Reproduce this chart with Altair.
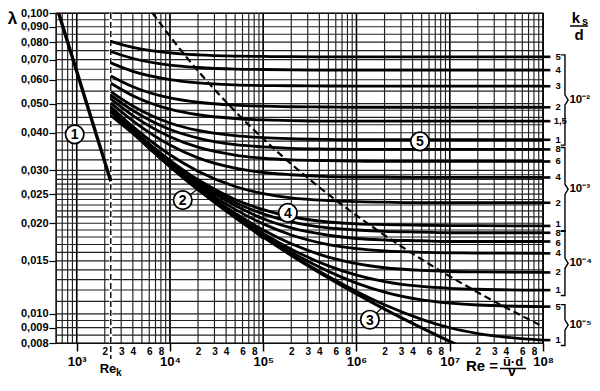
import math
import altair as alt
import pandas as pd

FONT = "Liberation Sans"
NARROW = "Liberation Sans Narrow, Liberation Sans"

# ---------------- data ----------------
# Reynolds numbers at which the transition curves are read
RE = [2320, 4000, 1e4, 2e4, 5e4, 1e5, 2e5, 5e5, 1e6, 2e6, 5e6, 1e7, 2e7, 1e8]

KS_LABELS = ["5", "4", "3", "2", "1,5", "1", "8", "6", "4", "2", "1",
             "8", "6", "4", "2", "1", "5", "1"]
KS_GROUPS = ["10⁻²"] * 6 + ["10⁻³"] * 5 + ["10⁻⁴"] * 5 + ["10⁻⁵"] * 2

LAM_5E2 = [0.0805, 0.0769, 0.0737, 0.0726, 0.0719, 0.0717, 0.0716, 0.0715, 0.0715, 0.0715, 0.0715, 0.0715, 0.0715, 0.0715]
LAM_4E2 = [0.0745, 0.0706, 0.0671, 0.0659, 0.0651, 0.0649, 0.0647, 0.0646, 0.0646, 0.0646, 0.0646, 0.0646, 0.0646, 0.0646]
LAM_3E2 = [0.0683, 0.0640, 0.0601, 0.0586, 0.0577, 0.0574, 0.0573, 0.0572, 0.0571, 0.0571, 0.0571, 0.0571, 0.0571, 0.0571]
LAM_2E2 = [0.0618, 0.0569, 0.0522, 0.0505, 0.0494, 0.0490, 0.0488, 0.0487, 0.0486, 0.0486, 0.0486, 0.0486, 0.0486, 0.0486]
LAM_15E3 = [0.0584, 0.0531, 0.0479, 0.0459, 0.0446, 0.0441, 0.0439, 0.0437, 0.0437, 0.0437, 0.0437, 0.0437, 0.0437, 0.0437]
LAM_1E2 = [0.0548, 0.0491, 0.0431, 0.0407, 0.0391, 0.0385, 0.0382, 0.0380, 0.0379, 0.0379, 0.0379, 0.0379, 0.0379, 0.0379]
LAM_8E3 = [0.0533, 0.0474, 0.0410, 0.0384, 0.0365, 0.0359, 0.0355, 0.0353, 0.0352, 0.0352, 0.0352, 0.0352, 0.0352, 0.0352]
LAM_6E3 = [0.0518, 0.0456, 0.0388, 0.0358, 0.0337, 0.0329, 0.0325, 0.0323, 0.0322, 0.0321, 0.0321, 0.0321, 0.0321, 0.0321]
LAM_4E3 = [0.0503, 0.0438, 0.0364, 0.0330, 0.0305, 0.0295, 0.0290, 0.0286, 0.0285, 0.0285, 0.0284, 0.0284, 0.0284, 0.0284]
LAM_2E3 = [0.0488, 0.0419, 0.0338, 0.0298, 0.0265, 0.0251, 0.0243, 0.0238, 0.0236, 0.0235, 0.0234, 0.0234, 0.0234, 0.0234]
LAM_1E3 = [0.0480, 0.0409, 0.0324, 0.0279, 0.0240, 0.0222, 0.0210, 0.0202, 0.0199, 0.0198, 0.0197, 0.01965, 0.01964, 0.0196]
LAM_8E4 = [0.0478, 0.0407, 0.0321, 0.0275, 0.02345, 0.0215, 0.0202, 0.0193, 0.0190, 0.0188, 0.0187, 0.0186, 0.0186, 0.0186]
LAM_6E4 = [0.0477, 0.0405, 0.0318, 0.02715, 0.0229, 0.0207, 0.0193, 0.01825, 0.0178, 0.0176, 0.0175, 0.0174, 0.0174, 0.0174]
LAM_4E4 = [0.0475, 0.0403, 0.0315, 0.0267, 0.02225, 0.01991, 0.01829, 0.0170, 0.01648, 0.01619, 0.01601, 0.01595, 0.01592, 0.01589]
LAM_2E4 = [0.04733, 0.0401, 0.03119, 0.02632, 0.02159, 0.0190, 0.01709, 0.01543, 0.01468, 0.01423, 0.01394, 0.01383, 0.01378, 0.01373]
LAM_1E4 = [0.04723, 0.04001, 0.03104, 0.0261, 0.02125, 0.01851, 0.01641, 0.01443, 0.01344, 0.0128, 0.01233, 0.01216, 0.01207, 0.01199]
LAM_5E5 = [0.0472, 0.03996, 0.03095, 0.02599, 0.02107, 0.01826, 0.01603, 0.01384, 0.01265, 0.01181, 0.01113, 0.01086, 0.0107, 0.01057]
LAM_1E5 = [0.04717, 0.03992, 0.03089, 0.0259, 0.02093, 0.01805, 0.01572, 0.0133, 0.01187, 0.01072, 0.00959, 0.00899, 0.0086, 0.00818]

CURVES = [LAM_5E2, LAM_4E2, LAM_3E2, LAM_2E2, LAM_15E3, LAM_1E2,
          LAM_8E3, LAM_6E3, LAM_4E3, LAM_2E3, LAM_1E3,
          LAM_8E4, LAM_6E4, LAM_4E4, LAM_2E4, LAM_1E4,
          LAM_5E5, LAM_1E5]

# (3) hydraulically smooth pipe
RE_SMOOTH = [2320, 4000, 1e4, 2e4, 5e4, 1e5, 2e5, 5e5, 1e6, 2e6, 5e6, 1e7, 1.2e7]
LAM_SMOOTH = [0.04716, 0.03991, 0.03088, 0.02589, 0.02089, 0.01799, 0.01564, 0.01316, 0.01165, 0.01037, 0.00898, 0.0081, 0.00789]
# (2) Blasius
RE_BLASIUS = [2320, 4000, 1e4, 2e4, 5e4, 1e5]
LAM_BLASIUS = [0.04555, 0.03978, 0.03164, 0.02661, 0.02116, 0.01779]
# (1) laminar
RE_LAMINAR = [640, 2320]
LAM_LAMINAR = [0.1, 0.02759]
# (5) limit of the fully rough region
RE_LIMIT = [6494, 14963, 45368, 102776, 296730, 1427800, 3967000, 18278000, 1e8]
LAM_LIMIT = [0.1, 0.07146, 0.04858, 0.03787, 0.02839, 0.01962, 0.01588, 0.01197, 0.00907]

RE_K = 2320

# circled numbers
ANN_TXT = ["1", "2", "3", "4", "5"]
ANN_RE = [952, 13710, 1.392e6, 1.837e5, 4.79e6]
ANN_LAM = [0.0395, 0.02388, 0.00956, 0.02165, 0.03744]
# leader lines of the circled numbers 2 and 3
LEAD_RE = [13710, 1.392e6]
LEAD_LAM = [0.02388, 0.00956]
LEAD_RE2 = [20880, 2.0e6]
LEAD_LAM2 = [0.0263, 0.0107]

# axis ticks
Y_TICKS = [0.1, 0.09, 0.08, 0.07, 0.06, 0.05, 0.04, 0.03, 0.025, 0.02, 0.015, 0.01, 0.009, 0.008]
X_DECADES = [1e3, 1e4, 1e5, 1e6, 1e7, 1e8]
X_MINOR = [k * 10 ** n for n in range(3, 8) for k in (2, 3, 4, 6, 8)]

# grid
V_GRID = [k * 10 ** n for n in range(2, 8) for k in range(1, 10) if k * 10 ** n >= 600] + [1e8]
H_GRID = [0.008, 0.0085, 0.009, 0.0095, 0.010, 0.011, 0.012, 0.013, 0.014, 0.015,
          0.016, 0.017, 0.018, 0.019, 0.020, 0.021, 0.022, 0.023, 0.024, 0.025,
          0.026, 0.027, 0.028, 0.029, 0.030, 0.0325, 0.035, 0.0375, 0.040, 0.0425,
          0.045, 0.0475, 0.050, 0.055, 0.060, 0.065, 0.070, 0.075, 0.080, 0.085,
          0.090, 0.095, 0.100]

# ---------------- chart ----------------
W, H = 487, 330
xs = alt.Scale(type="log", domain=[600, 1e8], nice=False)
ys = alt.Scale(type="log", domain=[0.008, 0.1], nice=False)

y_axis = alt.Axis(values=Y_TICKS, labelExpr="replace(format(datum.value, '.3f'), '.', ',')",
                  tickSize=7, tickColor="black", tickWidth=1.2, labelPadding=1,
                  labelFont=FONT, labelFontSize=11, labelFontWeight="bold", labelColor="black",
                  labelOverlap=False, domain=False, grid=False,
                  title="λ", titleAngle=0, titleX=-44, titleY=5, titleFont=FONT,
                  titleFontSize=17, titleFontWeight="bold", titleColor="black",
                  titleAlign="center", titleBaseline="middle")
Y = alt.Y("lam:Q", scale=ys, axis=y_axis)
XN = alt.X("Re:Q", scale=xs, axis=None)

minor_axis = alt.Axis(values=X_MINOR, orient="bottom",
                      labelExpr="format(datum.value / pow(10, floor(log(datum.value) / LN10 + 1e-6)), 'd')",
                      tickSize=0, labelPadding=3, labelFont=FONT, labelFontSize=10,
                      labelFontWeight="bold", labelColor="black", labelOverlap=False,
                      labelFlush=False, domain=False, grid=False, title=None)
decade_axis = alt.Axis(values=X_DECADES, orient="bottom",
                       labelExpr="'10' + ['⁰','¹','²','³','⁴','⁵','⁶','⁷','⁸'][round(log(datum.value) / LN10)]",
                       tickSize=8, tickColor="black", tickWidth=1.5, labelPadding=4,
                       labelFont=FONT, labelFontSize=13, labelFontWeight="bold",
                       labelColor="black", labelOverlap=False, labelFlush=False,
                       domain=False, grid=False, title=None)

rows = []
for i, vals in enumerate(CURVES):
    for re_, lam in zip(RE, vals):
        rows.append({"curve": i, "Re": re_, "lam": lam})
rough = pd.DataFrame(rows)

GRID_COL = "#202020"
vgrid = alt.Chart(pd.DataFrame({"Re": V_GRID})).mark_rule(
    color=GRID_COL, strokeWidth=1.15).encode(x=alt.X("Re:Q", scale=xs, axis=minor_axis))
decades = alt.Chart(pd.DataFrame({"Re": X_DECADES})).mark_rule(
    color="black", strokeWidth=1.5).encode(x=alt.X("Re:Q", scale=xs, axis=decade_axis))
hgrid = alt.Chart(pd.DataFrame({"lam": H_GRID})).mark_rule(
    color=GRID_COL, strokeWidth=1.15).encode(y=Y)

rek = alt.Chart(pd.DataFrame({"Re": [RE_K]})).mark_rule(
    color="white", strokeWidth=3).encode(x=XN, y=alt.value(0), y2=alt.value(H))
rek_dash = alt.Chart(pd.DataFrame({"Re": [RE_K]})).mark_rule(
    color="black", strokeWidth=1.4, strokeDash=[6, 3]).encode(x=XN, y=alt.value(0), y2=alt.value(H + 16))

curves = alt.Chart(rough).mark_line(color="black", strokeWidth=2.8, interpolate="monotone",
                                    clip=True).encode(x=XN, y=Y, detail="curve:N")
smooth = alt.Chart(pd.DataFrame({"Re": RE_SMOOTH, "lam": LAM_SMOOTH})).mark_line(
    color="black", strokeWidth=3, interpolate="monotone", clip=True).encode(x=XN, y=Y)
blasius = alt.Chart(pd.DataFrame({"Re": RE_BLASIUS, "lam": LAM_BLASIUS})).mark_line(
    color="black", strokeWidth=2.6, interpolate="monotone", clip=True).encode(x=XN, y=Y)
laminar = alt.Chart(pd.DataFrame({"Re": RE_LAMINAR, "lam": LAM_LAMINAR})).mark_line(
    color="black", strokeWidth=3.4, clip=True).encode(x=XN, y=Y)
limit = alt.Chart(pd.DataFrame({"Re": RE_LIMIT, "lam": LAM_LIMIT})).mark_line(
    color="black", strokeWidth=2.2, strokeDash=[7, 4], interpolate="monotone", clip=True).encode(x=XN, y=Y)

# right-hand labels of ks/d (two crowded labels nudged apart a little, as in the original)
ends = [c[-1] for c in CURVES]
nudge = [1.0] * len(ends)
nudge[10] = 1.012   # "1" of 10^-3
nudge[12] = 1 / 1.01  # "6" of 10^-4
lab_df = pd.DataFrame({"Re": [1e8] * len(ends), "Re2": [1.2e8] * len(ends),
                       "Rl": [1.3e8 if t == "1,5" else 1.36e8 for t in KS_LABELS],
                       "lam": ends, "lamL": [e * n for e, n in zip(ends, nudge)],
                       "txt": KS_LABELS})
leaders = alt.Chart(lab_df).mark_rule(color="black", strokeWidth=2.6).encode(
    x=XN, x2="Re2:Q", y=Y)
labels = alt.Chart(lab_df).mark_text(align="left", baseline="middle", font=NARROW, fontSize=9.5,
                                     fontWeight="bold", color="black").encode(
    x=alt.X("Rl:Q", scale=xs, axis=None), y=alt.Y("lamL:Q", scale=ys, axis=y_axis), text="txt:N")

# braces
brace_rows, grp_rows = [], []
for g in ["10⁻²", "10⁻³", "10⁻⁴", "10⁻⁵"]:
    idx = [i for i, v in enumerate(KS_GROUPS) if v == g]
    top = ends[idx[0]] * 1.015
    bot = ends[idx[-1]] * 0.96
    mid = math.sqrt(top * bot)
    pts = [(1.55e8, top), (1.72e8, top), (1.72e8, mid * 1.04), (1.86e8, mid),
           (1.72e8, mid / 1.04), (1.72e8, bot), (1.55e8, bot)]
    for o, (r_, l_) in enumerate(pts):
        brace_rows.append({"g": g, "o": o, "Re": r_, "lam": l_})
    grp_rows.append({"Re": 1.92e8, "lam": mid, "txt": g})
braces = alt.Chart(pd.DataFrame(brace_rows)).mark_line(color="black", strokeWidth=1.4).encode(
    x=XN, y=Y, detail="g:N", order="o:O")
grp_text = alt.Chart(pd.DataFrame(grp_rows)).mark_text(
    align="left", baseline="middle", font=FONT, fontSize=11.5, fontWeight="bold", color="black").encode(
    x=XN, y=Y, text="txt:N")

# circled numbers
lead = alt.Chart(pd.DataFrame({"Re": LEAD_RE, "lam": LEAD_LAM, "Re2": LEAD_RE2, "lam2": LEAD_LAM2})).mark_rule(
    color="black", strokeWidth=1.2).encode(x=XN, y=Y, x2="Re2:Q", y2="lam2:Q")
ann = pd.DataFrame({"Re": ANN_RE, "lam": ANN_LAM, "txt": ANN_TXT})
circles = alt.Chart(ann).mark_point(shape="circle", size=340, filled=True, fill="white",
                                    stroke="black", strokeWidth=1.7, opacity=1).encode(x=XN, y=Y)
circ_txt = alt.Chart(ann).mark_text(font=FONT, fontSize=14, fontWeight="bold", color="black",
                                    baseline="middle", dy=1).encode(x=XN, y=Y, text="txt:N")


def label(text, x, y, size, align="center", baseline="middle"):
    return alt.Chart(pd.DataFrame({"a": [0]})).mark_text(
        text=text, font=FONT, fontSize=size, fontWeight="bold", color="black",
        align=align, baseline=baseline).encode(x=alt.value(x), y=alt.value(y))


def line(x1, x2, y):
    return alt.Chart(pd.DataFrame({"a": [0]})).mark_rule(color="black", strokeWidth=1.5).encode(
        x=alt.value(x1), x2=alt.value(x2), y=alt.value(y))


texts = [
    label("Re", 52, 360, 13, baseline="alphabetic"),
    label("k", 60, 363, 10, "left", baseline="alphabetic"),
    label("Re =", 426, 358, 15, baseline="alphabetic"),
    label("ū·d", 457, 353, 13, baseline="alphabetic"),
    line(444, 470, 355.5),
    label("ν", 456, 363, 14, baseline="alphabetic"),
    label("k", 520, 5, 15), label("s", 526, 9, 11, "left"), line(514, 532, 13),
    label("d", 523, 22, 15),
]

chart = alt.layer(
    vgrid, decades, hgrid, rek, rek_dash, curves, smooth, blasius, laminar, limit,
    leaders, labels, braces, grp_text, lead, circles, circ_txt, *texts
).resolve_axis(x="independent").properties(
    width=W, height=H, padding={"left": 48, "top": 5, "right": 49, "bottom": 36},
    autosize="none", background="white"
).configure_view(stroke="black", strokeWidth=1.2)

chart.save("out.html", embed_options={"renderer": "svg", "actions": False})
